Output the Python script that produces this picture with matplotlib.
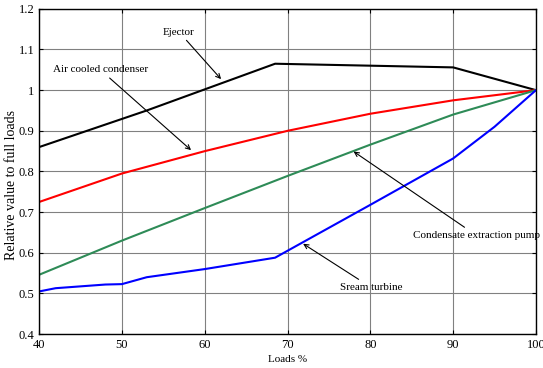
import matplotlib.pyplot as plt

plt.rcParams['font.family'] = ['Liberation Serif', 'DejaVu Serif']

ejector_x = [40, 53, 68.5, 90, 100]
ejector_y = [0.86, 0.95, 1.065, 1.056, 1.0]

acc_x = [40, 50, 60, 70, 80, 90, 100]
acc_y = [0.725, 0.795, 0.85, 0.90, 0.942, 0.975, 1.0]

cep_x = [40, 50, 60, 70, 80, 90, 100]
cep_y = [0.546, 0.63, 0.71, 0.789, 0.866, 0.94, 1.0]

turb_x = [40, 42, 48, 50, 53, 60, 68.5, 70, 80, 90, 95, 100]
turb_y = [0.505, 0.513, 0.522, 0.523, 0.54, 0.56, 0.588, 0.605, 0.718, 0.832, 0.91, 1.0]

fig = plt.figure(figsize=(5.43, 3.68), dpi=100)
ax = fig.add_axes([0.072, 0.092, 0.915, 0.884])

ax.plot(ejector_x, ejector_y, color='black', lw=1.5)
ax.plot(acc_x, acc_y, color='red', lw=1.5)
ax.plot(cep_x, cep_y, color='#2e8b57', lw=1.5)
ax.plot(turb_x, turb_y, color='blue', lw=1.5)

arrow = dict(arrowstyle='->', color='black', lw=0.8, shrinkA=1)
ax.annotate('Ejector', xy=(62.2, 1.022), xytext=(56.9, 1.143),
            ha='center', va='center', fontsize=8, arrowprops=arrow)
ax.annotate('Air cooled condenser', xy=(58.6, 0.848), xytext=(47.4, 1.05),
            ha='center', va='center', fontsize=8, arrowprops=arrow)
ax.annotate('Condensate extraction pump', xy=(77.7, 0.853), xytext=(92.8, 0.643),
            ha='center', va='center', fontsize=8, arrowprops=arrow)
ax.annotate('Sream turbine', xy=(71.6, 0.626), xytext=(80.1, 0.515),
            ha='center', va='center', fontsize=8, arrowprops=arrow)

ax.set_xlim(40, 100)
ax.set_ylim(0.4, 1.2)
ax.set_xticks(range(40, 101, 10))
ax.set_yticks([0.4, 0.5, 0.6, 0.7, 0.8, 0.9, 1.0, 1.1, 1.2])
ax.set_yticklabels(['0.4', '0.5', '0.6', '0.7', '0.8', '0.9', '1', '1.1', '1.2'])
ax.tick_params(direction='in', top=True, right=True, labelsize=9, length=3)
ax.grid(True, color='#808080', lw=0.8)
ax.set_xlabel('Loads %', fontsize=8, labelpad=3)
ax.set_ylabel('Relative value to full loads', fontsize=10)
ax.yaxis.set_label_coords(-0.043, 0.457)
for s in ax.spines.values():
    s.set_linewidth(1.0)

fig.savefig('out.png', dpi=100)
